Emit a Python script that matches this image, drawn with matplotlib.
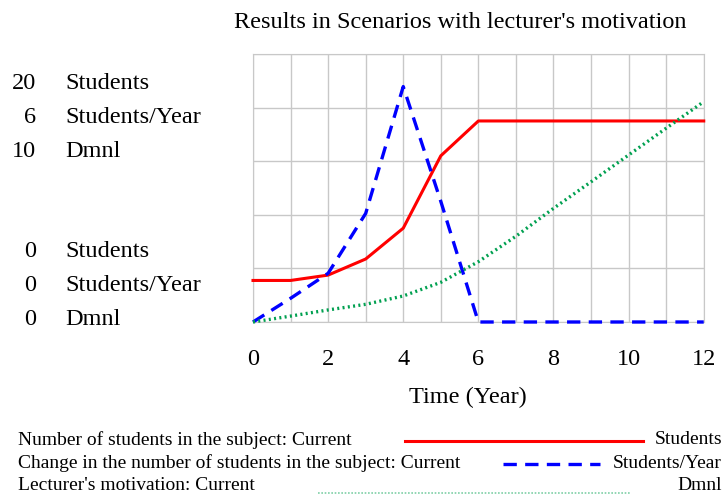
import matplotlib.pyplot as plt
from matplotlib.lines import Line2D

# time axis (years)
years = [0, 1, 2, 3, 4, 5, 6, 7, 8, 9, 10, 11, 12]

# Number of students in the subject (Students, scale 0-20)
students = [3.1, 3.1, 3.5, 4.7, 7.0, 12.4, 15.0, 15.0, 15.0, 15.0, 15.0, 15.0, 15.0]
# Change in the number of students (Students/Year, scale 0-6)
change = [0.0, 0.53, 1.09, 2.43, 5.27, 2.7, 0.0, 0.0, 0.0, 0.0, 0.0, 0.0, 0.0]
# Lecturer's motivation (Dmnl, scale 0-10)
motivation = [0.0, 0.22, 0.45, 0.66, 0.97, 1.48, 2.25, 3.2, 4.24, 5.23, 6.23, 7.23, 8.22]

x_ticks = [0, 2, 4, 6, 8, 10, 12]
scale_top = ["20", "6", "10"]
scale_bottom = ["0", "0", "0"]
units = ["Students", "Students/Year", "Dmnl"]
legend_names = ["Number of students in the subject: Current",
                "Change in the number of students in the subject: Current",
                "Lecturer's motivation: Current"]

plt.rcParams['font.family'] = ['Liberation Serif', 'DejaVu Serif']

red = '#ff0000'
blue = '#0000ff'
green = '#00a050'
grid_c = '#c8c8c8'
fs = 17.5
fs_leg = 14

fig = plt.figure(figsize=(7.27, 4.95), dpi=100)
ax = fig.add_axes([0.348, 0.3495, 0.62, 0.5415])
ax2 = ax.twinx()
ax3 = ax.twinx()

ax.set_xlim(0, 12)
ax.set_ylim(0, 20)
ax2.set_ylim(0, 6)
ax3.set_ylim(0, 10)
ax.set_xticks(range(13))
ax.set_yticks([0, 4, 8, 12, 16, 20])
ax.grid(True, color=grid_c, linewidth=1)
ax.tick_params(length=0, labelleft=False, labelbottom=False)
for a in (ax2, ax3):
    a.set_yticks([])
    a.axis('off')
for s in ax.spines.values():
    s.set_color(grid_c)

ax.plot(years, students, color=red, lw=2.2, clip_on=False, zorder=3)
ax2.plot(years, change, color=blue, lw=2.4, dashes=(4, 2.5), clip_on=False, zorder=3)
ax3.plot(years, motivation, color=green, lw=2.4, linestyle=(0, (0.6, 1.0)), clip_on=False, zorder=3)

# x tick labels drawn as text below
for t in x_ticks:
    ax.annotate(str(t), xy=(t, 0), xycoords=('data', 'axes fraction'),
                xytext=(0, -25), textcoords='offset points', ha='center',
                va='center_baseline', fontsize=fs)
fig.text(0.643, 1 - 395 / 495, "Time (Year)", ha='center', va='center_baseline', fontsize=fs)
fig.text(0.633, 1 - 20 / 495, "Results in Scenarios with lecturer's motivation",
         ha='center', va='center_baseline', fontsize=fs)

# scale labels at left
for i in range(3):
    yt = 1 - (81 + 34 * i) / 495
    yb = 1 - (249 + 34 * i) / 495
    fig.text(36 / 727, yt, scale_top[i], ha='right', va='center_baseline', fontsize=fs)
    fig.text(65 / 727, yt, units[i], ha='left', va='center_baseline', fontsize=fs)
    fig.text(36 / 727, yb, scale_bottom[i], ha='right', va='center_baseline', fontsize=fs)
    fig.text(65 / 727, yb, units[i], ha='left', va='center_baseline', fontsize=fs)

# bottom legend
leg_styles = [dict(color=red, lw=2.2),
              dict(color=blue, lw=2.4, dashes=(4, 2.5)),
              dict(color=green, lw=1.2, linestyle=(0, (1, 1)), alpha=0.5)]
leg_x = [(405, 643), (503, 600), (318, 630)]
leg_y = [438, 461, 484]
for i in range(3):
    y = 1 - leg_y[i] / 495
    fig.text(18 / 727, y, legend_names[i], ha='left', va='center_baseline', fontsize=fs_leg)
    fig.text(722 / 727, y, units[i], ha='right', va='center_baseline', fontsize=fs_leg)
    ly = 1 - (leg_y[i] + 3 + (6 if i == 2 else 0)) / 495
    fig.add_artist(Line2D([leg_x[i][0] / 727, leg_x[i][1] / 727], [ly, ly],
                          transform=fig.transFigure, **leg_styles[i]))

fig.savefig('out.png', dpi=100)
